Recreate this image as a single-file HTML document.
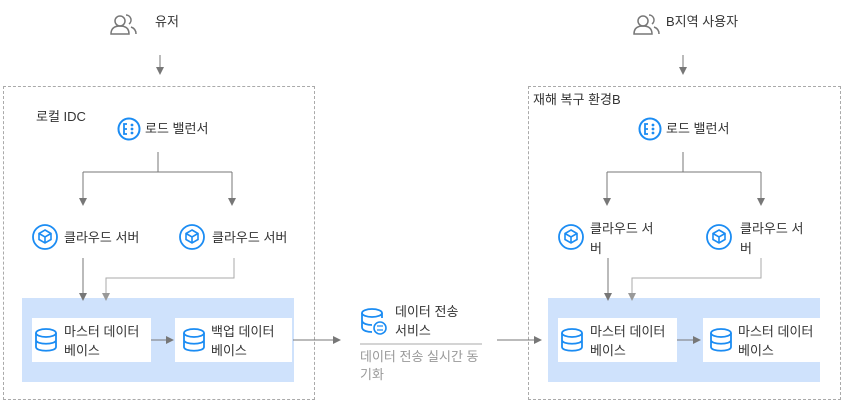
<!DOCTYPE html>
<html><head><meta charset="utf-8"><style>
body{margin:0;width:842px;height:402px;background:#fff;font-family:"Liberation Sans","Noto Sans CJK KR",sans-serif;position:relative;overflow:hidden;color:#333}
.a{position:absolute}
.t{position:absolute;font-size:13px;line-height:16px;white-space:nowrap}
.box{position:absolute;border:1px dashed #aaa}
.blue{position:absolute;background:#cfe2fc}
.wb{position:absolute;background:#fff}
</style></head><body>
<div class="box" style="left:3px;top:86px;width:310px;height:312px"></div>
<div class="box" style="left:528px;top:86px;width:311px;height:312px"></div>
<div class="blue" style="left:22px;top:298px;width:272px;height:84px"></div>
<div class="blue" style="left:548px;top:298px;width:272px;height:84px"></div>
<div class="wb" style="left:32px;top:318px;width:119px;height:44px"></div>
<div class="wb" style="left:175px;top:318px;width:117px;height:44px"></div>
<div class="wb" style="left:558px;top:318px;width:119px;height:44px"></div>
<div class="wb" style="left:703px;top:318px;width:117px;height:44px"></div>

<svg class="a" style="left:0;top:0" width="842" height="402">
<defs><marker id="m" markerWidth="8" markerHeight="8" refX="7" refY="4" orient="auto" markerUnits="userSpaceOnUse"><path d="M0,0L8,4L0,8z" fill="#777"/></marker>
<marker id="m2" markerWidth="8" markerHeight="8" refX="7" refY="4" orient="auto" markerUnits="userSpaceOnUse"><path d="M0,0L8,4L0,8z" fill="#999"/></marker>
<g id="user"><circle cx="0" cy="-4" r="5" fill="none" stroke="#777" stroke-width="1.5"/><path d="M-9,9c0-6 4-8 9-8s9,2 9,8z" fill="none" stroke="#777" stroke-width="1.5"/><path d="M6,-10a5,5 0 0 1 3,9M11,2c3,1 5,3 5,7" fill="none" stroke="#777" stroke-width="1.5"/></g>
<g id="lb"><circle r="10.5" fill="none" stroke="#1b8cf3" stroke-width="2"/><path d="M-2,-5h-3v10h3M-5,0h3" stroke="#1b8cf3" stroke-width="1.8" fill="none"/><circle cx="3" cy="-4" r="1.4" fill="#1b8cf3"/><circle cx="3" cy="0" r="1.4" fill="#1b8cf3"/><circle cx="3" cy="4" r="1.4" fill="#1b8cf3"/></g>
<g id="cs"><circle r="12" fill="none" stroke="#1b8cf3" stroke-width="1.8"/><path d="M0,-7l6,3.5v6l-6,3.5l-6,-3.5v-6z M-6,-3.5l6,3.5l6,-3.5M0,0v6" fill="none" stroke="#1b8cf3" stroke-width="1.6"/></g>
<g id="db"><ellipse cx="0" cy="-7" rx="10" ry="4" fill="none" stroke="#1b8cf3" stroke-width="1.8"/><path d="M-10,-7v14c0,5 20,5 20,0v-14M-10,0c0,5 20,5 20,0" fill="none" stroke="#1b8cf3" stroke-width="1.8"/></g>
</defs>
<use href="#user" x="120" y="25"/><use href="#user" x="643" y="25"/>
<g stroke="#777" stroke-width="1" fill="none">
<path d="M160,55V74" marker-end="url(#m)"/><path d="M683,55V74" marker-end="url(#m)"/>
<path d="M158,152V172M83,172H232"/>
<path d="M83,172V205" marker-end="url(#m)"/><path d="M232,172V205" marker-end="url(#m)"/>
<path d="M683,152V172M607,172H761"/>
<path d="M607,172V205" marker-end="url(#m)"/><path d="M761,172V205" marker-end="url(#m)"/>
<path d="M83,258V300" marker-end="url(#m)"/><path d="M608,258V300" marker-end="url(#m)"/>
<path d="M151,340H173" marker-end="url(#m)"/><path d="M677,340H700" marker-end="url(#m)"/>
<path d="M293,340H340" marker-end="url(#m)"/><path d="M497,340H541" marker-end="url(#m)"/>
</g>
<g stroke="#aaa" stroke-width="1" fill="none">
<path d="M234,258V278H106V300" marker-end="url(#m2)"/>
<path d="M761,258V278H632V300" marker-end="url(#m2)"/>
<path d="M360,344H482"/>
</g>
<use href="#lb" x="129" y="129"/><use href="#lb" x="650" y="129"/>
<use href="#cs" x="45" y="237"/><use href="#cs" x="192" y="237"/>
<use href="#cs" x="571" y="237"/><use href="#cs" x="719" y="237"/>
<use href="#db" x="46" y="340"/><use href="#db" x="194" y="340"/>
<use href="#db" x="572" y="340"/><use href="#db" x="721" y="340"/>
<g><ellipse cx="372" cy="313" rx="10" ry="4" fill="none" stroke="#1b8cf3" stroke-width="1.8"/><path d="M362,313v14c0,4 6,5 10,5M382,313v5M362,320c0,4 6,5 10,5" fill="none" stroke="#1b8cf3" stroke-width="1.8"/><circle cx="380" cy="328" r="6" fill="#fff" stroke="#1b8cf3" stroke-width="1.6"/><path d="M377,326h6M377,330h6" stroke="#1b8cf3" stroke-width="1.2"/></g>
</svg>
<div class="t" style="left:155px;top:14px">유저</div>
<div class="t" style="left:666px;top:14px">B지역 사용자</div>
<div class="t" style="left:36px;top:109px">로컬 IDC</div>
<div class="t" style="left:533px;top:92px">재해 복구 환경B</div>
<div class="t" style="left:145px;top:121px">로드 밸런서</div>
<div class="t" style="left:666px;top:121px">로드 밸런서</div>
<div class="t" style="left:64px;top:230px">클라우드 서버</div>
<div class="t" style="left:212px;top:230px">클라우드 서버</div>
<div class="t" style="left:590px;top:219px;line-height:20px">클라우드 서<br>버</div>
<div class="t" style="left:740px;top:219px;line-height:20px">클라우드 서<br>버</div>
<div class="t" style="left:64px;top:322px;line-height:19px">마스터 데이터<br>베이스</div>
<div class="t" style="left:211px;top:322px;line-height:19px">백업 데이터<br>베이스</div>
<div class="t" style="left:590px;top:322px;line-height:19px">마스터 데이터<br>베이스</div>
<div class="t" style="left:738px;top:322px;line-height:19px">마스터 데이터<br>베이스</div>
<div class="t" style="left:395px;top:302px;line-height:19px">데이터 전송<br>서비스</div>
<div class="t" style="left:360px;top:348px;line-height:18px;color:#999">데이터 전송 실시간 동<br>기화</div>
</body></html>
